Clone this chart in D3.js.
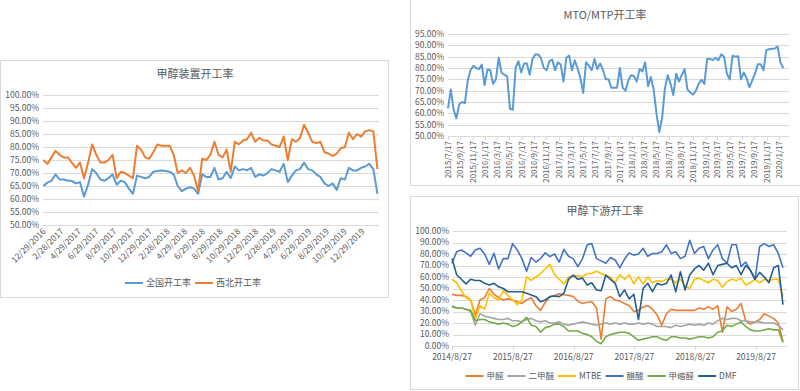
<!DOCTYPE html>
<html>
<head>
<meta charset="utf-8">
<script src="https://cdn.jsdelivr.net/npm/d3@7"></script>
<style>
  body { margin: 0; background: #fff; }
  svg { display: block; font-family: "Noto Sans CJK SC", "Noto Sans", sans-serif; }
  .panel { fill: #fff; stroke: #d9d9d9; }
  .grid line { stroke: #d9d9d9; stroke-width: 1; }
  .lbl { fill: #595959; font-size: 8.5px; }
  .title { fill: #595959; font-size: 11px; text-anchor: middle; }
  .line { fill: none; stroke-linejoin: round; }
</style>
</head>
<body>
<svg id="chart" width="800" height="391"></svg>
<script>
// ---- 甲醇装置开工率: biweekly from 12/29/2016
const plantStart = '12/29/2016';
const plantNational = [65,66.3,67,69.5,67.5,67.5,67,67,66,66.5,61,65.5,71.5,70,67.5,67,68,69.5,65.5,67,66.5,64,62,69,68.5,68,68.5,70.5,70.8,71,70.8,70.5,69.5,65,63,64,64.5,64,62,69.5,68.5,68.5,
  72,67.5,68,70.5,68,72.5,71,71.5,71,72,68.5,69.5,69,70,71.5,71,70.5,73.5,66.5,69,71,71.5,74,71.5,71,69.5,68.5,66,65,66,63.5,68,67.5,72,71,71,72,72.5,73.5,71.5,62];
const plantNorthwest = [75,73.5,76,78.5,77,76,76,74,72,74,68,74,81,77,74,74,75,77,68,70.5,70,69,68,80.5,79,76,75.5,78,81,80.5,80.5,80.5,77,70,71,70,72,69,63,75.5,75,77,
  82,77,76,79,70.5,82,81,82.5,83,85.5,82,83.5,82.5,82.5,81,80.5,80,84,75,83,82,83.5,88.5,85.5,82,81.5,82,78,77.5,76.5,77.5,79.5,80,85.5,83,85,84,86,86.5,86,71.5];
const plantTicks = ['12/29/2016','2/28/2017','4/29/2017','6/29/2017','8/29/2017','10/29/2017','12/29/2017','2/28/2018','4/29/2018','6/29/2018','8/29/2018','10/29/2018','12/29/2018','2/28/2019','4/29/2019','6/29/2019','8/29/2019','10/29/2019','12/29/2019'];
const plantNames = ['全国开工率', '西北开工率'];

// ---- MTO/MTP开工率: biweekly from 2015/7/17
const mtoStart = '2015/7/17';
const mtoRate = [62.2,70.5,61.5,57.8,64,65,64.5,74.5,79,81,80,79.5,81.5,72.5,79.3,79,73,75,84.5,78,
  77,76.4,62,61.5,80,83,78,82,82,77,84,86,86,84.4,80,79,83,83.7,79,82.5,
  81.5,74,84.5,85.5,79,83.4,79.8,75.5,69,82.5,81,79,84,79.5,82,79.3,75,75,71.3,71.3,
  71.3,80,71.3,70,74.5,76.8,76.5,74,79.5,78.5,82.5,72,76,70.6,60,51.7,57.8,71,76.8,73,
  68,77.5,74,77,79.5,70.5,69.2,68.2,70,73,74.8,73,84,84,83.5,84.5,83.4,86,85,77.5,
  75,85.4,85,85.2,75,78,75.5,71.5,74.5,77.5,81.7,81.7,79,87.9,88.3,88.5,88.6,89.5,82.5,80];
const mtoTicks = ['2015/7/17','2015/9/17','2015/11/17','2016/1/17','2016/3/17','2016/5/17','2016/7/17','2016/9/17','2016/11/17','2017/1/17','2017/3/17','2017/5/17','2017/7/17','2017/9/17','2017/11/17','2018/1/17','2018/3/17','2018/5/17','2018/7/17','2018/9/17','2018/11/17','2019/1/17','2019/3/17','2019/5/17','2019/7/17','2019/9/17','2019/11/17','2020/1/17'];

// ---- 甲醇下游开工率: every 4 weeks from 2014/8/27
const downStart = '2014/8/27';
const formaldehyde = [45,44,44,43,40,27,40,42,50,45,42,40,41,40,38.5,37,40,42,35,31,38,42.9,44,45.5,44.5,44,43,39,37,38,38.5,33,6,41,43,40,
  39,37,35,30,31,34,35,32,27,18,28,32,31,31,31,31,31,33,32,34,32,35,12,34,30,32,37,22,19,21,23,28,26,24,20,4];
const dme = [35,33,33,32,30,18,28,26,25,24,23,23,24,22,22,21,23,24,22,21,22,20,20,21,19,18,19,20,21,20,19,18,19,20,19,20,
  19,20,19,19,20,19,20,19,17,17,17,16,18,17,18,19,18,19,18,20,19,22,24,23,24,24,22,22,21,21,21,20,20,20,18,14];
const mtbe = [58,55,48,42,40,23,35,32,46,42,40,48,44,40,36,40,60,57,60,63,67,71,62,58,54,60,61,61,60,63,63,65,63,61,60,55,
  62,58,62,54,60,54,60,55,57,56,58,58,55,58,52,50,58,59,57,55,58,57,51,56,58,57,59,53,55,58,55,58,57,58,58,43];
const aceticAcid = [72,82,83.5,81,78,83.5,85,80,71,80.6,67,76,76,89,83.5,76,65,77,73,76,81,77.7,80,73,84,78,76,69,76,88,89,76,74,72,77,74.8,
  68,75.5,81,79,80,85,78,80.5,80.5,82,88,80.5,82,76,78,92,80.5,85,86.5,76,83.5,88,76,72,88,88,69,73,66,58,86.5,89,86.5,88,80.5,68];
const methylal = [34,33,33,32,31,22,23,23,21,20,19,20,19,17,18,21,25,18,17,12,16,17,19,19,17,13,13,13,11,10,8,4,2,8,10,11,
  12,12,11,8,5,6,7,8,8,6,5,8,8,7,7,6,7,8,8,7,8,12,13,18,17,19,21,17,14,13,13,14,15,14,14,3];
const dmf = [76,62,58,54,58,57,57,54.5,53,54.5,51.5,50,47.2,47.2,47.2,47.2,45.8,44.3,42.9,38.5,40,42.9,43.5,42.9,45.8,58,61.7,58,59,53,55,48.7,48,61.7,58,54.5,
  42.9,48.7,41,45,23,50,54.5,47.2,54.5,53,54.5,61.7,47.2,64.6,48.7,61.7,67,70,66,72,62,70,71,72,68,70,62,70,66,58,64,60,55,68,70,36];
const downNames = ['甲醛', '二甲醚', 'MTBE', '醋酸', '甲缩醛', 'DMF'];
const downTicks = ['2014/8/27','2015/8/27','2016/8/27','2017/8/27','2018/8/27','2019/8/27'];

const colors = {
  blue: '#5b9bd5', orange: '#ed7d31', gray: '#a5a5a5', gold: '#ffc000',
  blue2: '#4472c4', green: '#70ad47', navy: '#255e91'
};

const parseMDY = d3.utcParse('%m/%d/%Y');
const parseYMD = d3.utcParse('%Y/%m/%d');
const series = (start, stepDays, values) =>
  values.map((v, i) => ({ date: d3.utcDay.offset(start, i * stepDays), v }));
const pct = d => d.toFixed(2) + '%';

const svg = d3.select('#chart');

let panel = (x, y, w, h, title, titleY, titleX) => {
  svg.append('rect').attr('class', 'panel')
      .attr('x', x).attr('y', y).attr('width', w).attr('height', h);
  svg.append('text').attr('class', 'title')
      .attr('x', titleX).attr('y', titleY).text(title);
};

let yGrid = (y, ticks, x0, x1) => {
  const g = svg.append('g').attr('class', 'grid');
  g.selectAll('line').data(ticks).join('line')
      .attr('x1', x0).attr('x2', x1)
      .attr('y1', d => Math.round(y(d)) + 0.5).attr('y2', d => Math.round(y(d)) + 0.5);
  g.selectAll('text').data(ticks).join('text')
      .attr('class', 'lbl')
      .attr('x', x0 - 4).attr('y', d => y(d)).attr('dy', '0.35em')
      .attr('text-anchor', 'end')
      .text(pct);
};

let drawLines = (x, y, list, width) => {
  const line = d3.line().x(d => x(d.date)).y(d => y(d.v));
  svg.append('g').selectAll('path').data(list).join('path')
      .attr('class', 'line')
      .attr('stroke', d => d.color)
      .attr('stroke-width', width)
      .attr('d', d => line(d.data));
};

let legend = (items, cy, cx, gap, size) => {
  const g = svg.append('g');
  const items2 = items.map(d => {
    const t = g.append('text').attr('class', 'lbl').style('font-size', size + 'px').text(d.name);
    return { ...d, t, w: t.node().getComputedTextLength() };
  });
  const total = d3.sum(items2, d => 21 + d.w) + gap * (items2.length - 1);
  let cur = cx - total / 2;
  items2.forEach(d => {
    g.append('line').attr('x1', cur).attr('x2', cur + 18)
        .attr('y1', cy).attr('y2', cy)
        .attr('stroke', d.color).attr('stroke-width', 2);
    d.t.attr('x', cur + 21).attr('y', cy).attr('dy', '0.35em');
    cur += 21 + d.w + gap;
  });
};

// ---------- left: 甲醇装置开工率
{
  panel(0.5, 60.5, 388, 237, '甲醇装置开工率', 78, 195);
  const ticks = plantTicks.map(parseMDY);
  const x = d3.scaleUtc().domain([ticks[0], ticks[ticks.length - 1]]).range([43.3, 362]);
  const y = d3.scaleLinear().domain([50, 100]).range([225, 95]);
  yGrid(y, d3.range(50, 100.1, 5), 43, 379);
  svg.append('g').selectAll('text').data(plantTicks).join('text')
      .attr('class', 'lbl')
      .attr('text-anchor', 'end')
      .attr('transform', d => `translate(${x(parseMDY(d)) + 3},${232}) rotate(-45)`)
      .text(d => d);
  const start = parseMDY(plantStart);
  drawLines(x, y, [
    { color: colors.blue, data: series(start, 14, plantNational) },
    { color: colors.orange, data: series(start, 14, plantNorthwest) }
  ], 2);
  legend([
    { name: plantNames[0], color: colors.blue },
    { name: plantNames[1], color: colors.orange }
  ], 283, 193, 4, 9);
}

// ---------- top right: MTO/MTP开工率
{
  panel(410.5, -1, 400, 186.5, 'MTO/MTP开工率', 19, 605);
  const ticks = mtoTicks.map(parseYMD);
  const x = d3.scaleUtc().domain([ticks[0], ticks[ticks.length - 1]]).range([448, 779]);
  const y = d3.scaleLinear().domain([50, 95]).range([136, 34]);
  yGrid(y, d3.range(50, 95.1, 5), 448, 789);
  const ax = svg.append('g');
  ax.selectAll('line').data(ticks).join('line')
      .attr('x1', d => Math.round(x(d)) + 0.5).attr('x2', d => Math.round(x(d)) + 0.5)
      .attr('y1', 136).attr('y2', 140).attr('stroke', '#d9d9d9');
  ax.selectAll('text').data(mtoTicks).join('text')
      .attr('class', 'lbl')
      .style('font-size', '8px')
      .attr('text-anchor', 'end')
      .attr('transform', d => `translate(${x(parseYMD(d)) + 3},${141}) rotate(-90)`)
      .text(d => d);
  drawLines(x, y, [{ color: colors.blue, data: series(parseYMD(mtoStart), 14, mtoRate) }], 2);
}

// ---------- bottom right: 甲醇下游开工率
{
  panel(410.5, 196.5, 388, 193, '甲醇下游开工率', 215, 605);
  const ticks = downTicks.map(parseYMD);
  const x = d3.scaleUtc().domain([ticks[0], ticks[ticks.length - 1]]).range([452, 756]);
  const y = d3.scaleLinear().domain([0, 100]).range([346, 231]);
  yGrid(y, d3.range(0, 100.1, 10), 453, 787);
  const ax = svg.append('g');
  ax.selectAll('line').data(ticks).join('line')
      .attr('x1', d => Math.round(x(d)) + 0.5).attr('x2', d => Math.round(x(d)) + 0.5)
      .attr('y1', 346).attr('y2', 350).attr('stroke', '#d9d9d9');
  ax.selectAll('text').data(downTicks).join('text')
      .attr('class', 'lbl')
      .attr('text-anchor', 'middle')
      .attr('x', d => x(parseYMD(d))).attr('y', 360)
      .text(d => d);
  const start = parseYMD(downStart);
  const list = [
    { name: downNames[0], color: colors.orange, values: formaldehyde },
    { name: downNames[1], color: colors.gray, values: dme },
    { name: downNames[2], color: colors.gold, values: mtbe },
    { name: downNames[3], color: colors.blue2, values: aceticAcid },
    { name: downNames[4], color: colors.green, values: methylal },
    { name: downNames[5], color: colors.navy, values: dmf }
  ].map(d => ({ ...d, data: series(start, 28, d.values) }));
  drawLines(x, y, list, 1.6);
  legend(list, 376, 601, 4, 8.5);
}
</script>
</body>
</html>
